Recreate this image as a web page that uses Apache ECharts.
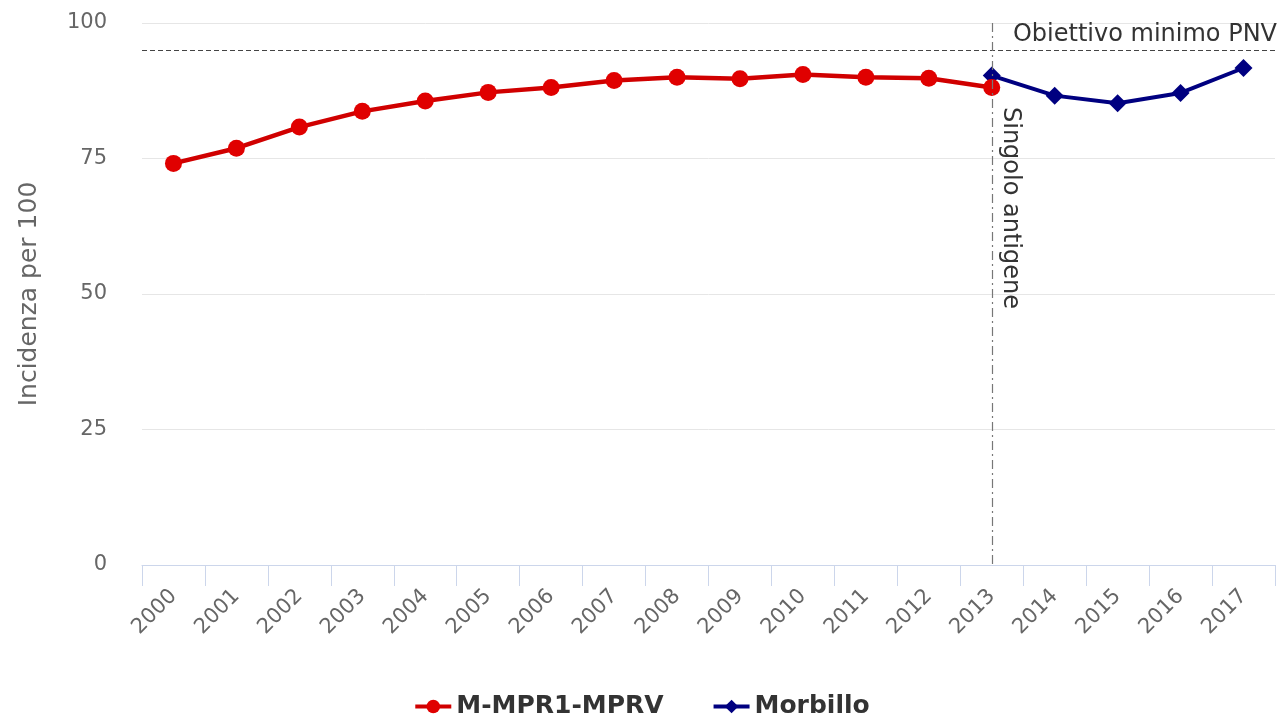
<!DOCTYPE html>
<html>
<head>
<meta charset="utf-8">
<script src="https://cdn.jsdelivr.net/npm/echarts@6/dist/echarts.min.js"></script>
<style>
  html, body { margin: 0; padding: 0; background: #ffffff; }
  #chart { width: 1283px; height: 717px; }
</style>
</head>
<body>
<div id="chart"></div>
<script>
// Copertura vaccinale (per 100) 2000-2017
const years = ['2000','2001','2002','2003','2004','2005','2006','2007','2008',
               '2009','2010','2011','2012','2013','2014','2015','2016','2017'];
const mprValues = [74.1, 76.9, 80.8, 83.7, 85.6, 87.2, 88.1, 89.4, 90.0,
                   89.7, 90.5, 90.0, 89.8, 88.1, null, null, null, null];
const morbilloValues = [null, null, null, null, null, null, null, null, null,
                        null, null, null, null, 90.3, 86.6, 85.2, 87.1, 91.7];
const yTicks = [0, 25, 50, 75, 100];
const targetValue = 95;
const switchYear = '2013';

const FONT = 'DejaVu Sans';
const chart = echarts.init(document.getElementById('chart'), null, { renderer: 'canvas' });

chart.setOption({
  backgroundColor: '#ffffff',
  animation: false,
  grid: { left: 142, right: 8, top: 23, bottom: 152, containLabel: false },
  legend: {
    left: 'center',
    top: 689,
    itemWidth: 36,
    itemHeight: 17,
    itemGap: 48,
    lineStyle: { width: 4 },
    data: ['M-MPR1-MPRV', 'Morbillo'],
    textStyle: { fontFamily: FONT, fontSize: 25, fontWeight: 'bold', color: '#333333' }
  },
  xAxis: {
    type: 'category',
    data: years,
    boundaryGap: true,
    axisLine: { lineStyle: { color: '#ccd6eb', width: 1 } },
    axisTick: { show: true, length: 21, lineStyle: { color: '#ccd6eb' } },
    axisLabel: {
      rotate: 45,
      margin: 28,
      interval: 0,
      fontFamily: FONT,
      fontSize: 21,
      color: '#666666'
    },
    splitLine: { show: false }
  },
  yAxis: {
    type: 'value',
    min: yTicks[0],
    max: yTicks[yTicks.length - 1],
    interval: 25,
    name: 'Incidenza per 100',
    nameLocation: 'middle',
    nameRotate: 90,
    nameGap: 100,
    nameTextStyle: { fontFamily: FONT, fontSize: 25, color: '#666666' },
    axisLine: { show: false },
    axisTick: { show: false },
    axisLabel: { margin: 35, fontFamily: FONT, fontSize: 21, color: '#666666' },
    splitLine: { lineStyle: { color: '#e6e6e6', width: 1 } }
  },
  series: [
    {
      name: 'M-MPR1-MPRV',
      type: 'line',
      z: 3,
      data: mprValues,
      connectNulls: false,
      symbol: 'circle',
      symbolSize: 17,
      itemStyle: { color: '#e00000' },
      lineStyle: { color: '#d00000', width: 4.5 },
      markLine: {
        silent: true,
        symbol: ['none', 'none'],
        data: [
          {
            yAxis: targetValue,
            lineStyle: { color: '#444444', width: 1.2, type: [5, 3] },
            label: {
              show: true,
              position: 'insideEndTop',
              distance: [-2, 3],
              formatter: 'Obiettivo minimo PNV',
              fontFamily: FONT,
              fontSize: 24,
              color: '#333333'
            }
          },
          [
            {
              coord: [switchYear, yTicks[yTicks.length - 1]],
              lineStyle: { color: '#777777', width: 1.2, type: [9, 4, 2, 4] },
              label: {
                show: true,
                position: 'insideStartTop',
                distance: 6,
                padding: [0, 0, 0, 78],
                formatter: 'Singolo antigene',
                fontFamily: FONT,
                fontSize: 24,
                color: '#333333'
              }
            },
            { coord: [switchYear, yTicks[0]] }
          ]
        ]
      }
    },
    {
      name: 'Morbillo',
      type: 'line',
      z: 2,
      data: morbilloValues,
      connectNulls: false,
      symbol: 'diamond',
      symbolSize: 18,
      itemStyle: { color: '#000080' },
      lineStyle: { color: '#000080', width: 4 }
    }
  ]
});
</script>
</body>
</html>
